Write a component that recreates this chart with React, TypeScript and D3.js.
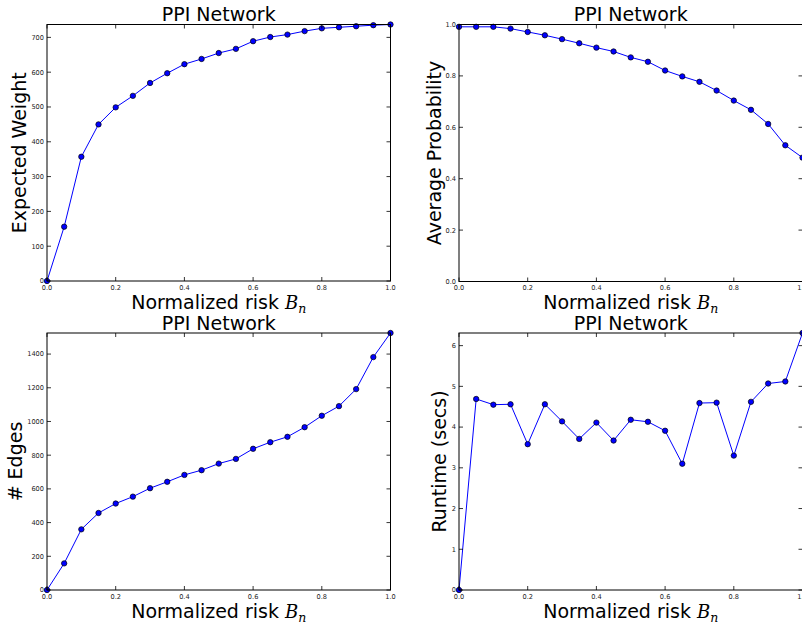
import React from "react";
import * as d3 from "d3";

const riskLevels = [0, 0.05, 0.1, 0.15, 0.2, 0.25, 0.3, 0.35, 0.4, 0.45, 0.5, 0.55, 0.6, 0.65, 0.7, 0.75, 0.8, 0.85, 0.9, 0.95, 1.0];
const expectedWeight = [0, 156, 357, 450, 499, 532, 569, 597, 623, 638, 655, 667, 689, 701, 708, 718, 726, 729, 732, 735, 737];
const averageProbability = [0.991, 0.991, 0.991, 0.984, 0.971, 0.958, 0.943, 0.927, 0.91, 0.895, 0.872, 0.855, 0.821, 0.798, 0.777, 0.743, 0.704, 0.668, 0.613, 0.53, 0.482];
const edgeCounts = [0, 158, 360, 457, 513, 554, 604, 642, 683, 711, 750, 778, 838, 877, 909, 966, 1034, 1091, 1192, 1382, 1525];
const runtimeSecs = [0, 4.69, 4.55, 4.56, 3.58, 4.56, 4.14, 3.71, 4.11, 3.67, 4.18, 4.13, 3.91, 3.1, 4.59, 4.6, 3.3, 4.62, 5.07, 5.12, 6.31];

const xTickValues = [0, 0.2, 0.4, 0.6, 0.8, 1.0];
const weightTicks = [0, 100, 200, 300, 400, 500, 600, 700];
const probTicks = [0, 0.2, 0.4, 0.6, 0.8, 1.0];
const edgeTicks = [0, 200, 400, 600, 800, 1000, 1200, 1400];
const runtimeTicks = [0, 1, 2, 3, 4, 5, 6];

const titleText = "PPI Network";
const xLabelText = "Normalized risk ";

type Panel = {
  x0: number; x1: number; y0: number; y1: number;
  values: number[]; yMax: number; yTicks: number[];
  yFmt: (v: number) => string; yLabel: string; yLabelX: number;
  titleY: number; xLabelY: number;
};

const FONT = "DejaVu Sans, sans-serif";
const MATH_FONT = "DejaVu Serif, serif";

const panels: Panel[] = [
  { x0: 47, x1: 390.5, y0: 24.5, y1: 281, values: expectedWeight, yMax: d3.max(expectedWeight)!, yTicks: weightTicks, yFmt: d3.format("d"), yLabel: "Expected Weight", yLabelX: 25.5, titleY: 21, xLabelY: 309 },
  { x0: 459, x1: 802.5, y0: 24.5, y1: 281.5, values: averageProbability, yMax: 1, yTicks: probTicks, yFmt: d3.format(".1f"), yLabel: "Average Probability", yLabelX: 440.5, titleY: 21, xLabelY: 309 },
  { x0: 47, x1: 390.5, y0: 333, y1: 590, values: edgeCounts, yMax: d3.max(edgeCounts)!, yTicks: edgeTicks, yFmt: d3.format("d"), yLabel: "# Edges", yLabelX: 22, titleY: 330, xLabelY: 618 },
  { x0: 459, x1: 802.5, y0: 333, y1: 590, values: runtimeSecs, yMax: d3.max(runtimeSecs)!, yTicks: runtimeTicks, yFmt: d3.format("d"), yLabel: "Runtime (secs)", yLabelX: 445.5, titleY: 330, xLabelY: 618 },
];

function PanelView({ p }: { p: Panel }) {
  const x = d3.scaleLinear().domain([0, 1]).range([p.x0, p.x1]);
  const y = d3.scaleLinear().domain([0, p.yMax]).range([p.y1, p.y0]);
  const line = d3.line<number>().x((_, i) => x(riskLevels[i])).y((v) => y(v));
  const tl = 4;
  const xFmt = d3.format(".1f");
  const cx = (p.x0 + p.x1) / 2;
  const cy = (p.y0 + p.y1) / 2;
  return (
    <g>
      <path d={line(p.values) ?? ""} fill="none" stroke="#0000ff" strokeWidth={1} />
      {p.values.map((v, i) => (
        <circle key={i} cx={x(riskLevels[i])} cy={y(v)} r={2.7} fill="#0000ff" stroke="#000" strokeWidth={0.7} />
      ))}
      <rect x={p.x0} y={p.y0} width={p.x1 - p.x0} height={p.y1 - p.y0} fill="none" stroke="#000" strokeWidth={1} />
      {xTickValues.map((t) => (
        <g key={"x" + t}>
          <line x1={x(t)} x2={x(t)} y1={p.y1} y2={p.y1 - tl} stroke="#000" strokeWidth={0.8} />
          <line x1={x(t)} x2={x(t)} y1={p.y0} y2={p.y0 + tl} stroke="#000" strokeWidth={0.8} />
          <text x={x(t)} y={p.y1 + 8.5} fontSize={6.6} textAnchor="middle" fill="#222" fontFamily={FONT}>{xFmt(t)}</text>
        </g>
      ))}
      {p.yTicks.map((t) => (
        <g key={"y" + t}>
          <line x1={p.x0} x2={p.x0 + tl} y1={y(t)} y2={y(t)} stroke="#000" strokeWidth={0.8} />
          <line x1={p.x1} x2={p.x1 - tl} y1={y(t)} y2={y(t)} stroke="#000" strokeWidth={0.8} />
          <text x={p.x0 - 3} y={y(t) + 2.4} fontSize={6.6} textAnchor="end" fill="#222" fontFamily={FONT}>{p.yFmt(t)}</text>
        </g>
      ))}
      <text x={cx} y={p.titleY} fontSize={19} textAnchor="middle" fontFamily={FONT} fill="#000">{titleText}</text>
      <text x={cx} y={p.xLabelY} fontSize={19} textAnchor="middle" fontFamily={FONT} fill="#000">
        {xLabelText}
        <tspan fontStyle="italic" fontFamily={MATH_FONT} fontSize={18}>B</tspan>
        <tspan fontStyle="italic" fontFamily={MATH_FONT} fontSize={12.5} dy={3.5}>n</tspan>
      </text>
      <text transform={`translate(${p.yLabelX},${cy}) rotate(-90)`} fontSize={19} textAnchor="middle" fontFamily={FONT} fill="#000">{p.yLabel}</text>
    </g>
  );
}

export default function App() {
  return (
    <svg width={802} height={623} style={{ position: "absolute", left: 0, top: 0, background: "#fff" }}>
      <rect x={0} y={0} width={802} height={623} fill="#fff" />
      {panels.map((p, i) => (
        <PanelView key={i} p={p} />
      ))}
    </svg>
  );
}
